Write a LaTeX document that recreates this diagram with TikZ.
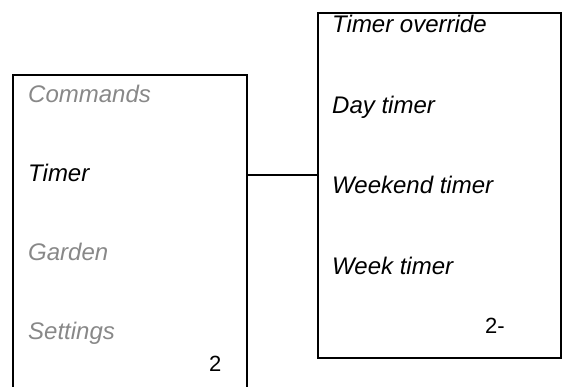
\documentclass[tikz,border=0pt]{standalone}
\usepackage{fontspec}
\setmainfont{Liberation Sans}
\definecolor{dimtext}{RGB}{136,136,136}
\tikzset{
  menubox/.style={draw=black, line width=1.6pt, rectangle, inner sep=0pt},
  item/.style={anchor=base west, inner sep=0pt, font=\fontsize{24}{27}\selectfont\itshape},
  dimitem/.style={item, text=dimtext},
  num/.style={anchor=base west, inner sep=0pt, font=\fontsize{22}{25}\selectfont}
}
\begin{document}
\begin{tikzpicture}[x=1pt,y=-1pt]
\useasboundingbox (0,0) rectangle (562,387);
\clip (0,0) rectangle (562,387);
\node[menubox, minimum width=234pt, minimum height=340pt, anchor=north west] (left) at (12,74) {};
\node[menubox, minimum width=243pt, minimum height=345pt, anchor=north west] (right) at (317,12) {};
\draw[line width=1.6pt] (left.east |- 0,175) coordinate (c1) -- (right.west |- 0,175);
\node[dimitem] (commands) at (28,103) {Commands};
\node[item] (timer) at (28,182) {Timer};
\node[dimitem] (garden) at (28,261) {Garden};
\node[dimitem] (settings) at (28,339) {Settings};
\node[num] (n1) at (209,371) {2};
\node[item] (override) at (332,33) {Timer override};
\node[item] (day) at (332,114) {Day timer};
\node[item] (weekend) at (332,194) {Weekend timer};
\node[item] (week) at (332,275) {Week timer};
\node[num] (n2) at (485,333) {2-};
\end{tikzpicture}
\end{document}
